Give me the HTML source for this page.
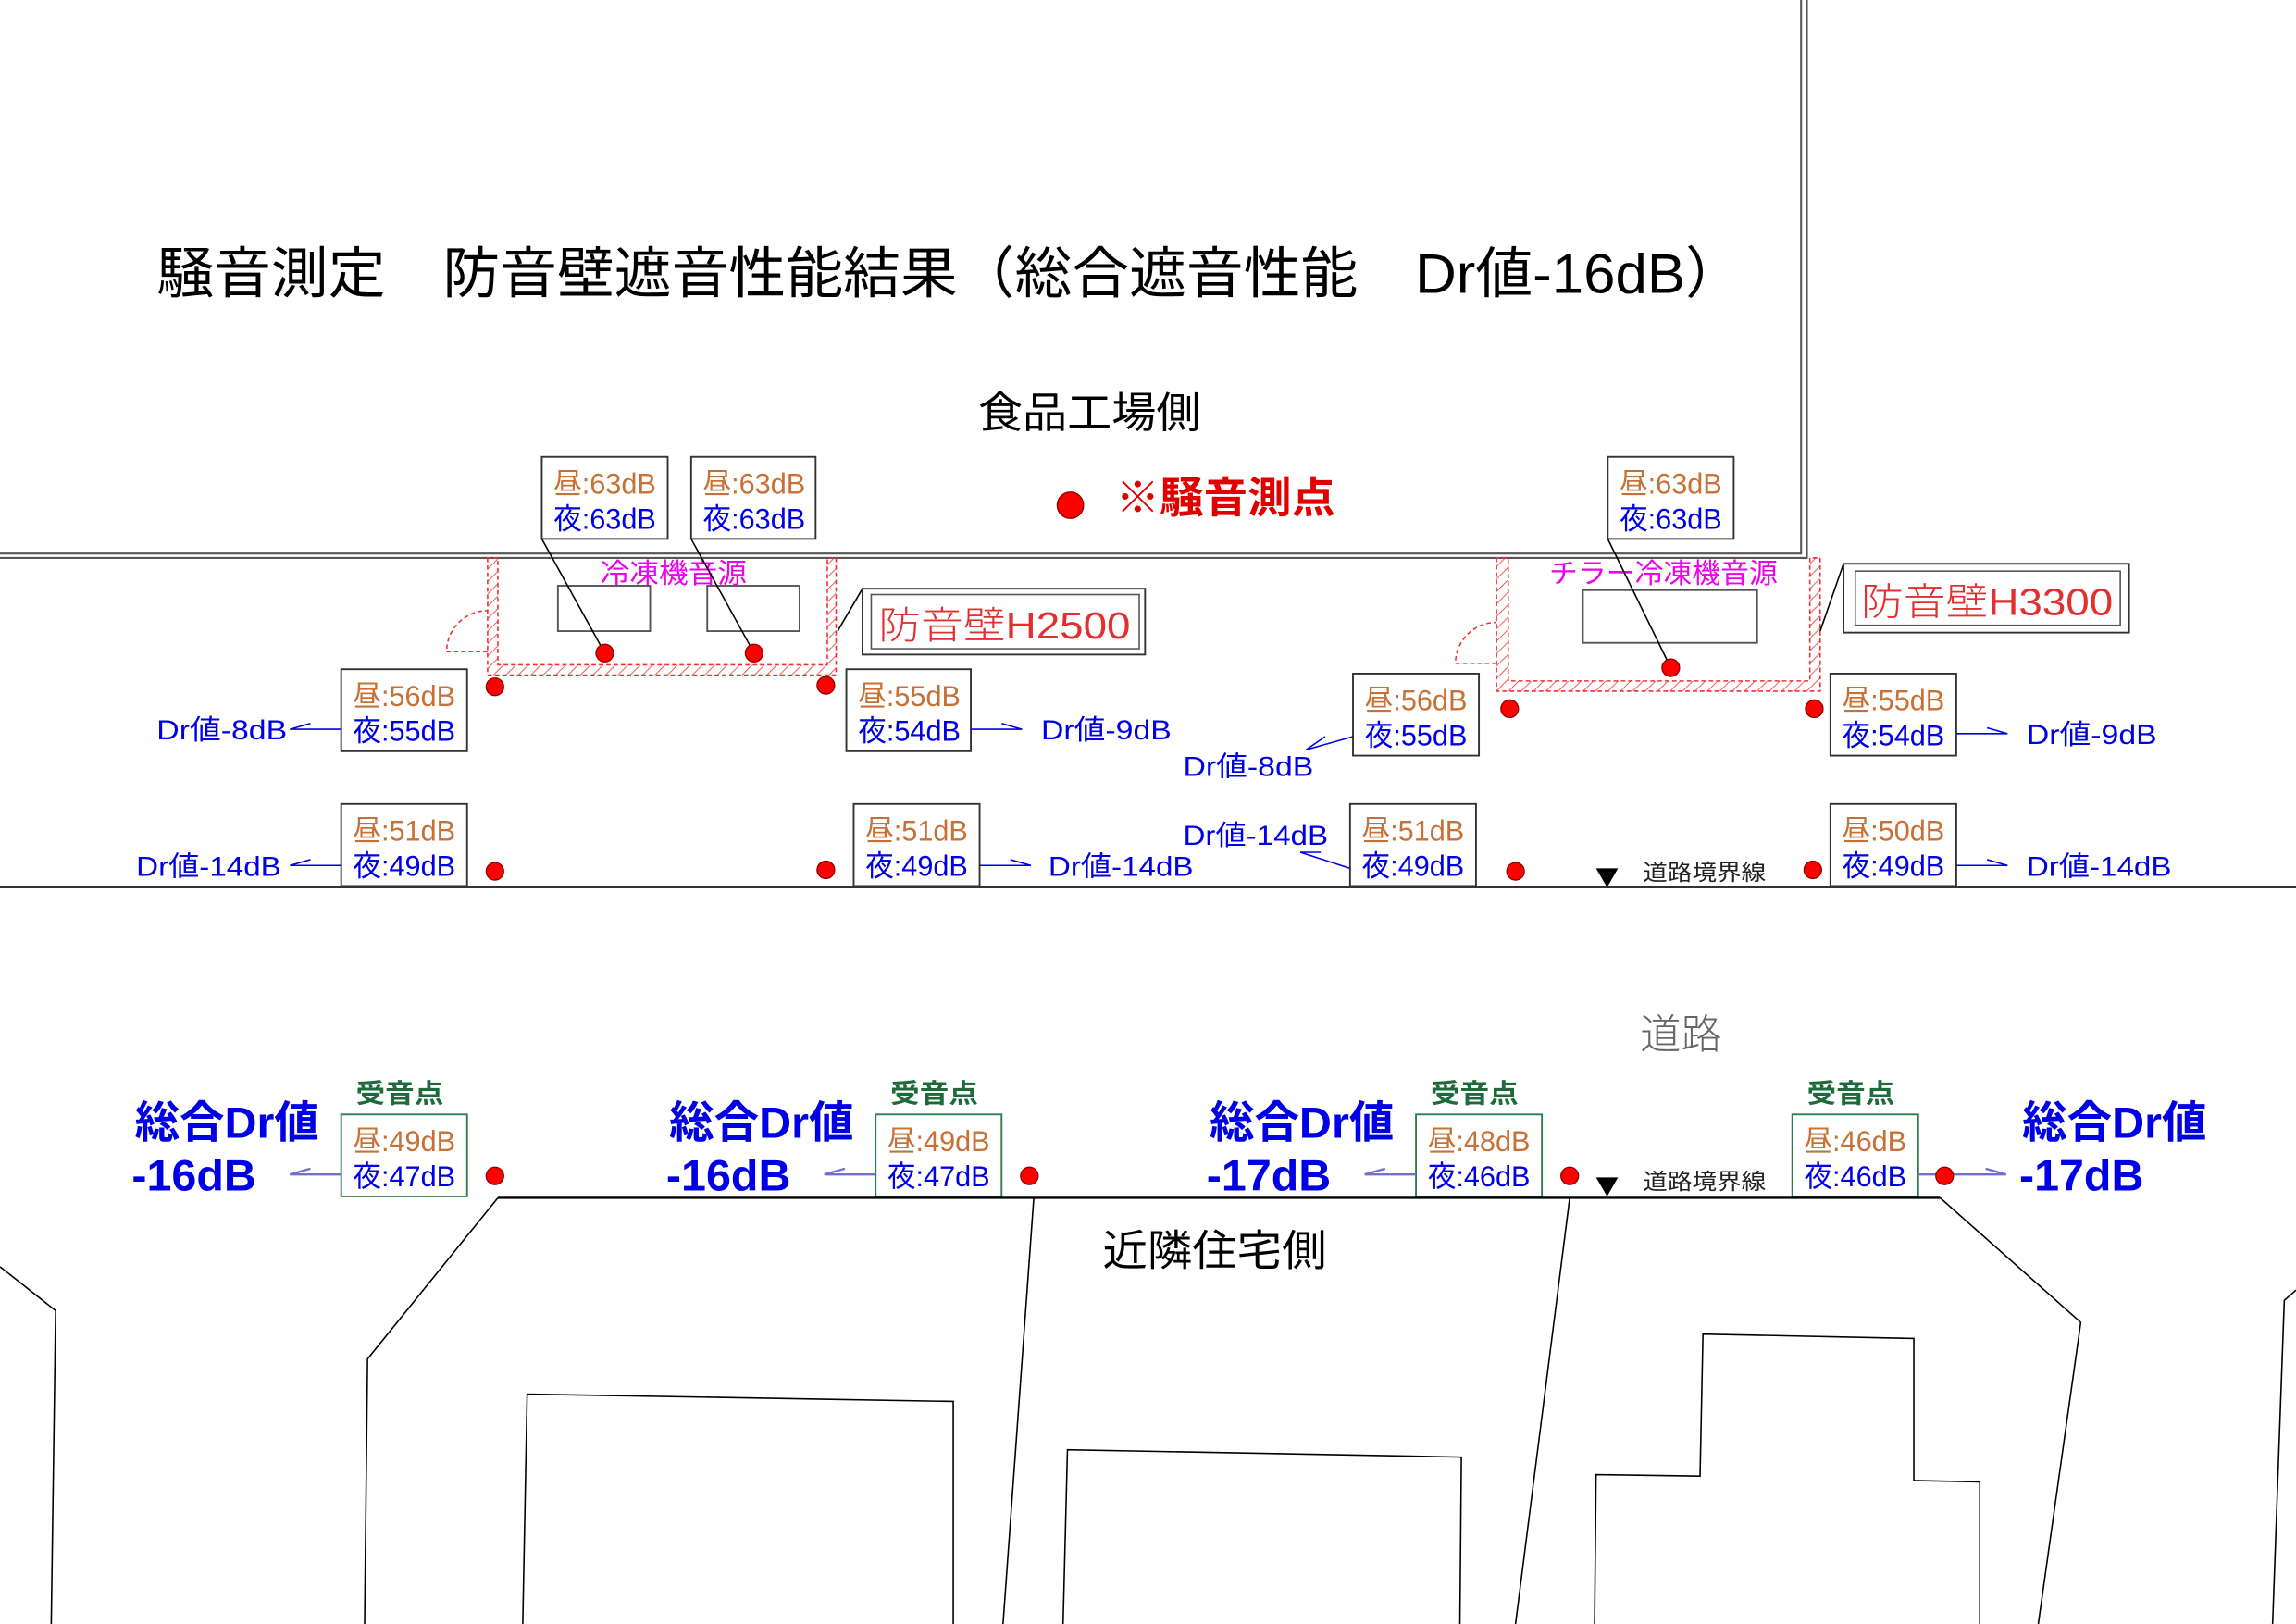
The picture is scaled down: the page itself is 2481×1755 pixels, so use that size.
<!DOCTYPE html>
<html><head><meta charset="utf-8"><style>
html,body{margin:0;padding:0;background:#fff;}
svg{display:block;}
text{font-family:"Liberation Sans","Noto Sans CJK JP",sans-serif;}
.d{fill:#c87137;font-size:20px;}
.n{fill:#0000e6;font-size:20px;}
.dr{fill:#0000e6;font-size:19px;}
.big{fill:#0000e6;font-size:30px;font-weight:bold;}
.g{fill:#1d6b3a;font-size:18px;font-weight:bold;}
.bx{fill:#fff;stroke:#333;stroke-width:1.2;}
.gb{fill:#fff;stroke:#2e7d4f;stroke-width:1.2;}
.bl{stroke:#0000e6;stroke-width:1;fill:none;}
.lb{stroke:#7070d0;stroke-width:1.5;fill:none;}
.k{stroke:#000;stroke-width:1;fill:none;}
.dot{fill:#f00;stroke:#800;stroke-width:0.8;}
</style></head><body>
<svg width="2481" height="1755" viewBox="0 0 1568 1109" preserveAspectRatio="none" xmlns="http://www.w3.org/2000/svg">
<defs>
<pattern id="h" width="6" height="6" patternUnits="userSpaceOnUse" patternTransform="rotate(45)">
<line x1="0" y1="0" x2="0" y2="6" stroke="#f03030" stroke-width="1"/>
</pattern>
</defs>
<rect width="1568" height="1109" fill="#fff"/>
<!-- factory outline -->
<path d="M1230 0 V378 H0 M1234 0 V381 H0" stroke="#555" stroke-width="1.3" fill="none"/>
<text x="107" y="200" font-size="38" textLength="1083" lengthAdjust="spacingAndGlyphs">騒音測定　防音壁遮音性能結果（総合遮音性能　Dr値-16dB）</text>
<text x="668" y="292" font-size="29" textLength="152" lengthAdjust="spacingAndGlyphs">食品工場側</text>
<circle cx="731" cy="345" r="9" class="dot"/>
<text x="762" y="350" font-size="29" font-weight="bold" fill="#e00000" textLength="150" lengthAdjust="spacingAndGlyphs">※騒音測点</text>

<!-- left hatched enclosure -->
<path d="M333 381 V461 H571 V381 H565 V454 H340 V381 Z" fill="url(#h)" stroke="#f03030" stroke-width="1" stroke-dasharray="3 2"/>
<path d="M333 445 H305 A28 28 0 0 1 333 417" fill="none" stroke="#f03030" stroke-width="1" stroke-dasharray="3 2"/>
<rect x="381" y="400" width="63" height="31" fill="none" stroke="#555" stroke-width="1.2"/>
<rect x="483" y="400" width="63" height="31" fill="none" stroke="#555" stroke-width="1.2"/>
<text x="410" y="398" font-size="19" fill="#ee00ee" textLength="100" lengthAdjust="spacingAndGlyphs">冷凍機音源</text>
<line x1="370" y1="368" x2="413" y2="446" class="k"/>
<line x1="472" y1="368" x2="515" y2="446" class="k"/>
<circle cx="413" cy="446" r="6" class="dot"/>
<circle cx="515" cy="446" r="6" class="dot"/>
<line x1="572" y1="431" x2="589" y2="402" class="k"/>
<rect x="589" y="402" width="193" height="45" fill="#fff" stroke="#333" stroke-width="1.2"/>
<rect x="595" y="406" width="183" height="37" fill="none" stroke="#555" stroke-width="1"/>
<text x="600" y="436" font-size="26" fill="#e03030" font-weight="200" textLength="172" lengthAdjust="spacingAndGlyphs">防音壁H2500</text>

<!-- right hatched enclosure -->
<path d="M1022 381 V472 H1243 V381 H1236 V465 H1030 V381 Z" fill="url(#h)" stroke="#f03030" stroke-width="1" stroke-dasharray="3 2"/>
<path d="M1022 453 H994 A28 28 0 0 1 1022 425" fill="none" stroke="#f03030" stroke-width="1" stroke-dasharray="3 2"/>
<rect x="1081" y="403" width="119" height="36" fill="none" stroke="#555" stroke-width="1.2"/>
<text x="1058" y="398" font-size="19" fill="#ee00ee" textLength="156" lengthAdjust="spacingAndGlyphs">チラー冷凍機音源</text>
<line x1="1098" y1="368" x2="1141" y2="456" class="k"/>
<circle cx="1141" cy="456" r="6" class="dot"/>
<line x1="1243" y1="431" x2="1259" y2="385" class="k"/>
<rect x="1259" y="385" width="195" height="47" fill="#fff" stroke="#333" stroke-width="1.2"/>
<rect x="1267" y="390" width="181" height="37" fill="none" stroke="#555" stroke-width="1"/>
<text x="1271" y="420" font-size="26" fill="#e03030" font-weight="200" textLength="172" lengthAdjust="spacingAndGlyphs">防音壁H3300</text>

<!-- top boxes -->
<rect x="370" y="312" width="86" height="56" class="bx"/><text x="378" y="337" class="d" textLength="70" lengthAdjust="spacingAndGlyphs">昼:63dB</text><text x="378" y="361" class="n" textLength="70" lengthAdjust="spacingAndGlyphs">夜:63dB</text>
<rect x="472" y="312" width="85" height="56" class="bx"/><text x="480" y="337" class="d" textLength="70" lengthAdjust="spacingAndGlyphs">昼:63dB</text><text x="480" y="361" class="n" textLength="70" lengthAdjust="spacingAndGlyphs">夜:63dB</text>
<rect x="1098" y="312" width="86" height="56" class="bx"/><text x="1106" y="337" class="d" textLength="70" lengthAdjust="spacingAndGlyphs">昼:63dB</text><text x="1106" y="361" class="n" textLength="70" lengthAdjust="spacingAndGlyphs">夜:63dB</text>

<!-- row1 -->
<rect x="233" y="457" width="86" height="56" class="bx"/><text x="241" y="482" class="d" textLength="70" lengthAdjust="spacingAndGlyphs">昼:56dB</text><text x="241" y="506" class="n" textLength="70" lengthAdjust="spacingAndGlyphs">夜:55dB</text>
<rect x="578" y="457" width="85" height="56" class="bx"/><text x="586" y="482" class="d" textLength="70" lengthAdjust="spacingAndGlyphs">昼:55dB</text><text x="586" y="506" class="n" textLength="70" lengthAdjust="spacingAndGlyphs">夜:54dB</text>
<rect x="924" y="460" width="86" height="56" class="bx"/><text x="932" y="485" class="d" textLength="70" lengthAdjust="spacingAndGlyphs">昼:56dB</text><text x="932" y="509" class="n" textLength="70" lengthAdjust="spacingAndGlyphs">夜:55dB</text>
<rect x="1250" y="460" width="86" height="56" class="bx"/><text x="1258" y="485" class="d" textLength="70" lengthAdjust="spacingAndGlyphs">昼:55dB</text><text x="1258" y="509" class="n" textLength="70" lengthAdjust="spacingAndGlyphs">夜:54dB</text>
<circle cx="338" cy="469" r="6" class="dot"/><circle cx="564" cy="468" r="6" class="dot"/>
<circle cx="1031" cy="484" r="6" class="dot"/><circle cx="1239" cy="484" r="6" class="dot"/>

<text x="107" y="505" class="dr" textLength="89" lengthAdjust="spacingAndGlyphs">Dr値-8dB</text>
<path d="M233 498 H198 L212 494" class="bl"/>
<text x="711" y="505" class="dr" textLength="89" lengthAdjust="spacingAndGlyphs">Dr値-9dB</text>
<path d="M663 498 H698 L684 494" class="bl"/>
<text x="808" y="530" class="dr" textLength="89" lengthAdjust="spacingAndGlyphs">Dr値-8dB</text>
<path d="M924 503 L892 512 L905 503" class="bl"/>
<text x="1384" y="508" class="dr" textLength="89" lengthAdjust="spacingAndGlyphs">Dr値-9dB</text>
<path d="M1336 501 H1371 L1357 497" class="bl"/>

<!-- row2 -->
<rect x="233" y="549" width="86" height="56" class="bx"/><text x="241" y="574" class="d" textLength="70" lengthAdjust="spacingAndGlyphs">昼:51dB</text><text x="241" y="598" class="n" textLength="70" lengthAdjust="spacingAndGlyphs">夜:49dB</text>
<rect x="583" y="549" width="86" height="56" class="bx"/><text x="591" y="574" class="d" textLength="70" lengthAdjust="spacingAndGlyphs">昼:51dB</text><text x="591" y="598" class="n" textLength="70" lengthAdjust="spacingAndGlyphs">夜:49dB</text>
<rect x="922" y="549" width="86" height="56" class="bx"/><text x="930" y="574" class="d" textLength="70" lengthAdjust="spacingAndGlyphs">昼:51dB</text><text x="930" y="598" class="n" textLength="70" lengthAdjust="spacingAndGlyphs">夜:49dB</text>
<rect x="1250" y="549" width="86" height="56" class="bx"/><text x="1258" y="574" class="d" textLength="70" lengthAdjust="spacingAndGlyphs">昼:50dB</text><text x="1258" y="598" class="n" textLength="70" lengthAdjust="spacingAndGlyphs">夜:49dB</text>
<circle cx="338" cy="595" r="6" class="dot"/><circle cx="564" cy="594" r="6" class="dot"/>
<circle cx="1035" cy="595" r="6" class="dot"/><circle cx="1238" cy="594" r="6" class="dot"/>

<text x="93" y="598" class="dr" textLength="99" lengthAdjust="spacingAndGlyphs">Dr値-14dB</text>
<path d="M233 591 H198 L212 587" class="bl"/>
<text x="716" y="598" class="dr" textLength="99" lengthAdjust="spacingAndGlyphs">Dr値-14dB</text>
<path d="M669 591 H704 L690 587" class="bl"/>
<text x="808" y="577" class="dr" textLength="99" lengthAdjust="spacingAndGlyphs">Dr値-14dB</text>
<path d="M922 593 L888 582 L902 582" class="bl"/>
<text x="1384" y="598" class="dr" textLength="99" lengthAdjust="spacingAndGlyphs">Dr値-14dB</text>
<path d="M1336 591 H1371 L1357 587" class="bl"/>

<!-- road -->
<line x1="0" y1="606" x2="1568" y2="606" stroke="#333" stroke-width="1.2"/>
<path d="M1090 593 H1105 L1097.5 606 Z" fill="#000"/>
<text x="1122" y="601" font-size="15" fill="#222" textLength="84" lengthAdjust="spacingAndGlyphs">道路境界線</text>
<text x="1120" y="716" font-size="28" fill="#666" font-weight="200" textLength="56" lengthAdjust="spacingAndGlyphs">道路</text>

<!-- bottom receivers -->
<text x="243" y="753" class="g" textLength="60" lengthAdjust="spacingAndGlyphs">受音点</text>
<text x="608" y="753" class="g" textLength="60" lengthAdjust="spacingAndGlyphs">受音点</text>
<text x="977" y="753" class="g" textLength="60" lengthAdjust="spacingAndGlyphs">受音点</text>
<text x="1234" y="753" class="g" textLength="60" lengthAdjust="spacingAndGlyphs">受音点</text>
<rect x="233" y="761" width="86" height="56" class="gb"/><text x="241" y="786" class="d" textLength="70" lengthAdjust="spacingAndGlyphs">昼:49dB</text><text x="241" y="810" class="n" textLength="70" lengthAdjust="spacingAndGlyphs">夜:47dB</text>
<rect x="598" y="761" width="86" height="56" class="gb"/><text x="606" y="786" class="d" textLength="70" lengthAdjust="spacingAndGlyphs">昼:49dB</text><text x="606" y="810" class="n" textLength="70" lengthAdjust="spacingAndGlyphs">夜:47dB</text>
<rect x="967" y="761" width="86" height="56" class="gb"/><text x="975" y="786" class="d" textLength="70" lengthAdjust="spacingAndGlyphs">昼:48dB</text><text x="975" y="810" class="n" textLength="70" lengthAdjust="spacingAndGlyphs">夜:46dB</text>
<rect x="1224" y="761" width="86" height="56" class="gb"/><text x="1232" y="786" class="d" textLength="70" lengthAdjust="spacingAndGlyphs">昼:46dB</text><text x="1232" y="810" class="n" textLength="70" lengthAdjust="spacingAndGlyphs">夜:46dB</text>

<text x="92" y="777" class="big" textLength="126" lengthAdjust="spacingAndGlyphs">総合Dr値</text>
<text x="90" y="813" class="big" textLength="85" lengthAdjust="spacingAndGlyphs">-16dB</text>
<text x="457" y="777" class="big" textLength="126" lengthAdjust="spacingAndGlyphs">総合Dr値</text>
<text x="455" y="813" class="big" textLength="85" lengthAdjust="spacingAndGlyphs">-16dB</text>
<text x="826" y="777" class="big" textLength="126" lengthAdjust="spacingAndGlyphs">総合Dr値</text>
<text x="824" y="813" class="big" textLength="85" lengthAdjust="spacingAndGlyphs">-17dB</text>
<text x="1381" y="777" class="big" textLength="126" lengthAdjust="spacingAndGlyphs">総合Dr値</text>
<text x="1379" y="813" class="big" textLength="85" lengthAdjust="spacingAndGlyphs">-17dB</text>
<path d="M233 802 H198 L212 798" class="lb"/>
<path d="M598 802 H563 L577 798" class="lb"/>
<path d="M967 802 H932 L946 798" class="lb"/>
<path d="M1310 802 H1370 L1356 798" class="lb"/>
<circle cx="338" cy="803" r="6" class="dot"/><circle cx="703" cy="803" r="6" class="dot"/>
<circle cx="1072" cy="803" r="6" class="dot"/><circle cx="1328" cy="803" r="6" class="dot"/>
<path d="M1090 804 H1105 L1097.5 817 Z" fill="#000"/>
<text x="1122" y="812" font-size="15" fill="#222" textLength="84" lengthAdjust="spacingAndGlyphs">道路境界線</text>

<!-- residential side -->
<line x1="340" y1="818" x2="1325" y2="818" stroke="#000" stroke-width="1.5"/>
<text x="753" y="864" font-size="29" textLength="153" lengthAdjust="spacingAndGlyphs">近隣住宅側</text>
<path d="M340 818 L251 928 L249 1109" class="k"/>
<path d="M706 818 L685 1109" class="k"/>
<path d="M1072 818 L1035 1109" class="k"/>
<path d="M1325 818 L1421 903 L1392 1109" class="k"/>
<path d="M0 865 L38 895 L35 1109" class="k"/>
<path d="M1568 881 L1560 888 L1552 1109" class="k"/>
<path d="M357 1109 L360 952 L651 957 L651 1109" class="k"/>
<path d="M726 1109 L729 990 L998 995 L997 1109" class="k"/>
<path d="M1089 1109 L1090 1007 L1161 1008 L1163 911 L1307 914 L1307 1011 L1352 1012 L1352 1109" class="k"/>
</svg>
</body></html>
